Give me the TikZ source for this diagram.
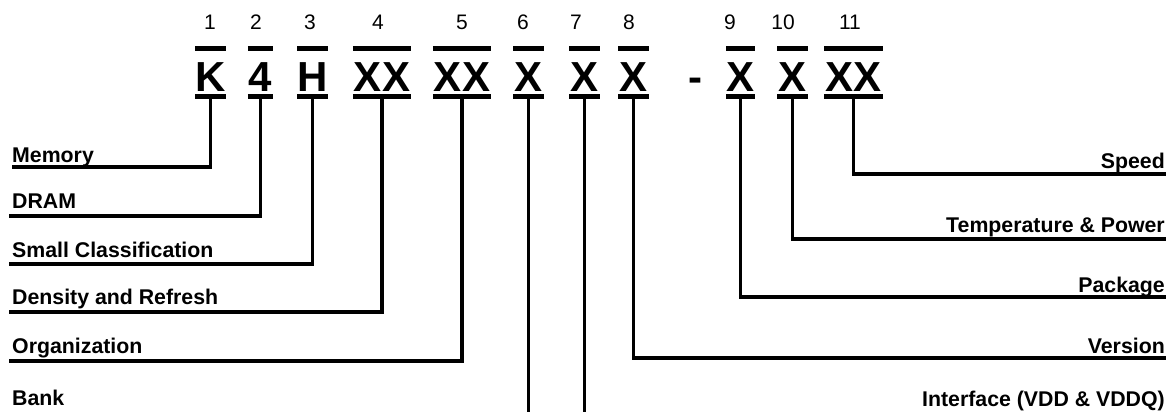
\documentclass[tikz,border=0pt]{standalone}
\usepackage{fontspec}
\setmainfont{Liberation Sans}

\begin{document}
\begin{tikzpicture}[
    x=1pt, y=-1pt,
    code/.style={inner sep=0pt, anchor=base, font=\fontsize{42}{48}\selectfont\bfseries, text height=43.5pt, text depth=4.5pt},
    one/.style={code, minimum width=30pt},
    two/.style={code, minimum width=58pt},
    num/.style={inner sep=0pt, anchor=base, font=\fontsize{21}{25}\selectfont},
    lbl/.style={inner sep=0pt, font=\fontsize{21.3}{25}\selectfont\bfseries},
    bar/.style={line width=5pt},
    ubar/.style={line width=4.5pt},
    conn/.style={line width=3.5pt}
]
    \useasboundingbox (0,0) rectangle (1173,412);

    % Part number characters
    \node[one] (c1) at (210.7,92) {K};
    \node[one, minimum width=25pt] (c2) at (260.5,92) {4};
    \node[one] (c3) at (312.5,92) {H};
    \node[two] (c4) at (382,92) {XX};
    \node[two] (c5) at (462,92) {XX};
    \node[one] (c6) at (528.5,92) {X};
    \node[one] (c7) at (584.5,92) {X};
    \node[one] (c8) at (633.5,92) {X};
    \node[code] (dash) at (695,92) {-};
    \node[one, minimum width=28pt] (c9) at (740.5,92) {X};
    \node[one] (c10) at (792.5,92) {X};
    \node[two] (c11) at (853.5,92) {XX};

    % Position numbers
    \node[num] (n1) at (210,30) {1};
    \node[num] (n2) at (256,30) {2};
    \node[num] (n3) at (310,30) {3};
    \node[num] (n4) at (378,30) {4};
    \node[num] (n5) at (462,30) {5};
    \node[num] (n6) at (523,30) {6};
    \node[num] (n7) at (576,30) {7};
    \node[num] (n8) at (629,30) {8};
    \node[num] (n9) at (730,30) {9};
    \node[num] (n10) at (783,30) {10};
    \node[num] (n11) at (850,30) {11};

    % Over and under bars
    \foreach \i in {1,...,11} {
        \draw[bar] (c\i.north west) -- (c\i.north east);
        \draw[ubar] (c\i.south west) -- (c\i.south east);
    }

    % Left side labels
    \node[lbl, anchor=base west] (memory) at (12,162) {Memory};
    \node[lbl, anchor=base west] (dram) at (12,208) {DRAM};
    \node[lbl, anchor=base west] (smallcls) at (12,257) {Small Classification};
    \node[lbl, anchor=base west] (density) at (12,304) {Density and Refresh};
    \node[lbl, anchor=base west] (organiz) at (12,353) {Organization};
    \node[lbl, anchor=base west] (bank) at (12,405) {Bank};

    % Right side labels
    \node[lbl, anchor=base east] (speed) at (1165,168) {Speed};
    \node[lbl, anchor=base east] (temp) at (1165,232) {Temperature \& Power};
    \node[lbl, anchor=base east] (package) at (1165,292) {Package};
    \node[lbl, anchor=base east] (version) at (1165,353) {Version};
    \node[lbl, anchor=base east] (iface) at (1165,406) {Interface (VDD \& VDDQ)};

    % Line ends
    \coordinate (memL) at (12,167);
    \coordinate (dramL) at (9,216);
    \coordinate (smallL) at (9,264);
    \coordinate (densL) at (9,312);
    \coordinate (orgL) at (9,361);
    \coordinate (spdR) at (1166,174);
    \coordinate (tempR) at (1166,239);
    \coordinate (pkgR) at (1166,297);
    \coordinate (verR) at (1166,358);
    \coordinate (bot6) at (c6.south |- 0,412);
    \coordinate (bot7) at (c7.south |- 0,412);

    % Connectors
    \draw[conn] (c1.south) |- (memL);
    \draw[conn] (c2.south) |- (dramL);
    \draw[conn] (c3.south) |- (smallL);
    \draw[conn] (c4.south) |- (densL);
    \draw[conn] (c5.south) |- (orgL);
    \draw[conn] (c6.south) -- (bot6);
    \draw[conn] (c7.south) -- (bot7);
    \draw[conn] (c8.south) |- (verR);
    \draw[conn] (c9.south) |- (pkgR);
    \draw[conn] (c10.south) |- (tempR);
    \draw[conn] (c11.south) |- (spdR);

\end{tikzpicture}
\end{document}
